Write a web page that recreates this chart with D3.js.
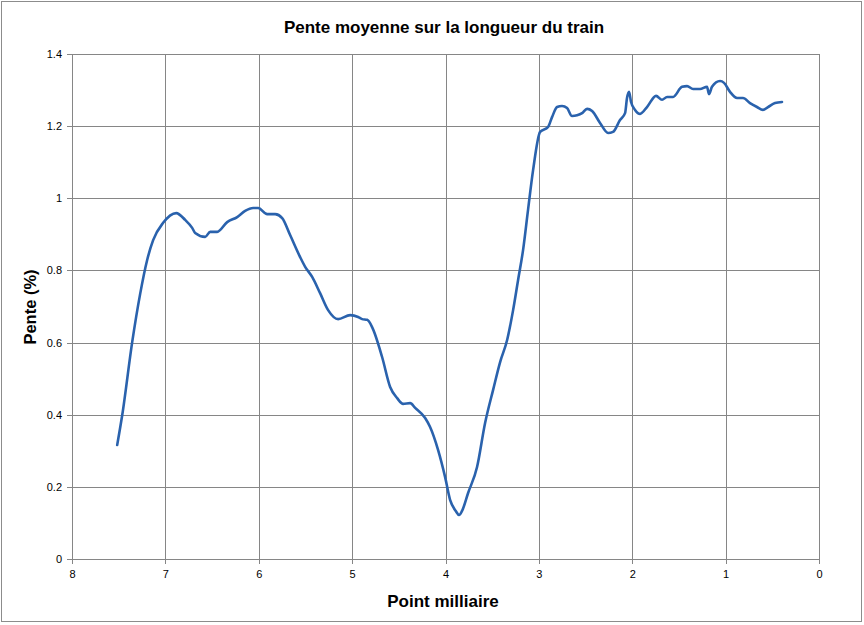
<!DOCTYPE html>
<html><head><meta charset="utf-8">
<script src="https://cdn.jsdelivr.net/npm/d3@7"></script>
<style>body{margin:0;background:#fff}svg{display:block}</style>
</head><body>
<svg id="c" width="864" height="625"></svg>
<script>
const milepost = [7.516,7.462,7.355,7.270,7.195,7.131,7.024,6.884,6.788,6.713,6.681,6.574,6.520,6.445,6.338,6.231,6.146,6.060,6.006,5.910,5.824,5.749,5.664,5.557,5.503,5.428,5.343,5.257,5.150,5.021,4.936,4.893,4.839,4.786,4.679,4.593,4.518,4.454,4.379,4.325,4.218,4.165,4.079,4.004,3.951,3.890,3.855,3.820,3.758,3.662,3.576,3.490,3.415,3.340,3.276,3.223,3.169,3.116,3.062,2.987,2.901,2.859,2.805,2.752,2.698,2.645,2.591,2.537,2.484,2.430,2.345,2.259,2.206,2.131,2.077,2.056,2.034,2.013,1.970,1.916,1.842,1.745,1.681,1.627,1.563,1.467,1.413,1.349,1.274,1.199,1.178,1.146,1.060,1.017,0.953,0.878,0.814,0.739,0.664,0.600,0.546,0.471,0.396];
const slope = [0.316,0.399,0.602,0.735,0.829,0.884,0.932,0.959,0.940,0.918,0.904,0.893,0.907,0.907,0.934,0.948,0.965,0.973,0.973,0.956,0.956,0.945,0.898,0.837,0.810,0.782,0.737,0.690,0.665,0.676,0.671,0.665,0.663,0.643,0.560,0.477,0.446,0.430,0.432,0.419,0.391,0.366,0.302,0.227,0.164,0.133,0.122,0.135,0.183,0.255,0.377,0.469,0.546,0.607,0.690,0.773,0.857,0.968,1.078,1.184,1.198,1.225,1.253,1.256,1.250,1.228,1.230,1.236,1.248,1.242,1.209,1.181,1.184,1.217,1.236,1.278,1.295,1.267,1.245,1.234,1.253,1.284,1.273,1.281,1.281,1.309,1.311,1.303,1.303,1.309,1.289,1.309,1.325,1.320,1.295,1.278,1.278,1.264,1.253,1.245,1.253,1.264,1.267];
const xTicks = [8,7,6,5,4,3,2,1,0];
const yTicks = [0,0.2,0.4,0.6,0.8,1,1.2,1.4];
const title = "Pente moyenne sur la longueur du train";
const xTitle = "Point milliaire";
const yTitle = "Pente (%)";

const svg = d3.select("#c");
const L = 72, R = 819, T = 54, B = 559;
const x = d3.scaleLinear().domain([8,0]).range([L,R]);
const y = d3.scaleLinear().domain([0,1.4]).range([B,T]);
const font = "'Liberation Sans', Arial, sans-serif";

svg.append("rect").attr("x",1.5).attr("y",1.5).attr("width",860).attr("height",620)
  .attr("fill","#fff").attr("stroke","#8c8c8c").attr("stroke-width",1);

const grid = svg.append("g");
grid.selectAll("line.h").data(yTicks).join("line")
  .attr("x1",L-5).attr("x2",R).attr("y1",d=>Math.round(y(d))+0.5).attr("y2",d=>Math.round(y(d))+0.5)
  .attr("stroke","#868686").attr("stroke-width",1);
grid.selectAll("line.v").data(xTicks).join("line")
  .attr("y1",T).attr("y2",B+5).attr("x1",d=>Math.round(x(d))+0.5).attr("x2",d=>Math.round(x(d))+0.5)
  .attr("stroke","#868686").attr("stroke-width",1);

const yAxis = d3.axisLeft(y).tickValues(yTicks).tickSize(0).tickPadding(10).tickFormat(d3.format("~g"));
const gy = svg.append("g").attr("transform",`translate(${L},0)`).call(yAxis);
gy.select(".domain").remove();
gy.selectAll("text").attr("font-family",font).attr("font-size",11).attr("fill","#000");

const xAxis = d3.axisBottom(x).tickValues(xTicks).tickSize(0).tickPadding(11).tickFormat(d3.format("d"));
const gx = svg.append("g").attr("transform",`translate(0,${B})`).call(xAxis);
gx.select(".domain").remove();
gx.selectAll("text").attr("font-family",font).attr("font-size",11).attr("fill","#000");

const data = milepost.map((m,i)=>({m, s: slope[i]}));
svg.append("path").datum(data)
  .attr("d", d3.line().x(d=>x(d.m)).y(d=>y(d.s)).curve(d3.curveMonotoneX))
  .attr("fill","none").attr("stroke","#2a62ad").attr("stroke-width",2.6)
  .attr("stroke-linejoin","round").attr("stroke-linecap","round");

svg.append("text").attr("x",444).attr("y",33).attr("text-anchor","middle")
  .attr("font-family",font).attr("font-weight","bold").attr("font-size",17).text(title);
svg.append("text").attr("x",443).attr("y",607).attr("text-anchor","middle")
  .attr("font-family",font).attr("font-weight","bold").attr("font-size",17).text(xTitle);
svg.append("text").attr("transform","translate(36,307) rotate(-90)").attr("text-anchor","middle")
  .attr("font-family",font).attr("font-weight","bold").attr("font-size",16.5).text(yTitle);
</script>
</body></html>
